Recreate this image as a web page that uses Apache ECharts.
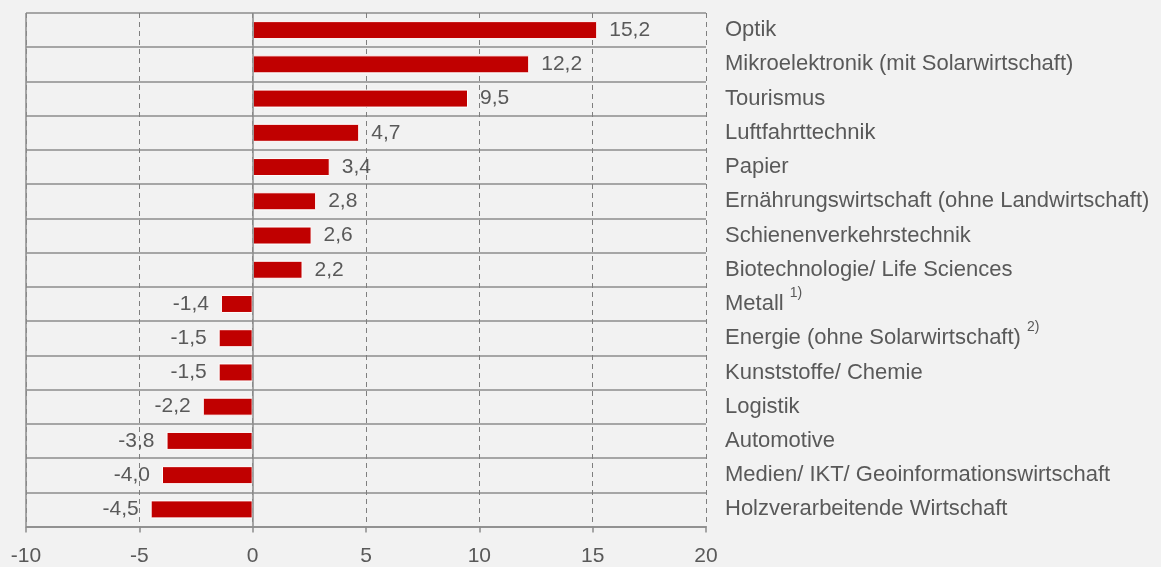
<!DOCTYPE html>
<html>
<head>
<meta charset="utf-8">
<script src="https://cdn.jsdelivr.net/npm/echarts@6/dist/echarts.min.js"></script>
<style>
html,body{margin:0;padding:0;background:#f2f2f2;}
#c{width:1161px;height:567px;}
</style>
</head>
<body>
<div id="c"></div>
<script>
var categories = [
  'Optik',
  'Mikroelektronik (mit Solarwirtschaft)',
  'Tourismus',
  'Luftfahrttechnik',
  'Papier',
  'Ernährungswirtschaft (ohne Landwirtschaft)',
  'Schienenverkehrstechnik',
  'Biotechnologie/ Life Sciences',
  'Metall',
  'Energie (ohne Solarwirtschaft)',
  'Kunststoffe/ Chemie',
  'Logistik',
  'Automotive',
  'Medien/ IKT/ Geoinformationswirtschaft',
  'Holzverarbeitende Wirtschaft'
];
var footnotes = ['', '', '', '', '', '', '', '', '1)', '2)', '', '', '', '', ''];
var values = [15.2, 12.2, 9.5, 4.7, 3.4, 2.8, 2.6, 2.2, -1.4, -1.5, -1.5, -2.2, -3.8, -4.0, -4.5];
var xTicks = { min: -10, max: 20, interval: 5 };

var textColor = '#595959';
var font = 'Liberation Sans, Arial, sans-serif';

var chart = echarts.init(document.getElementById('c'));
var seriesData = values.map(function (v) {
  return v < 0 ? { value: v, label: { position: 'left' } } : v;
});
chart.setOption({
  backgroundColor: '#f2f2f2',
  animation: false,
  grid: { left: 26, right: 455, top: 13, bottom: 40.5, containLabel: false },
  xAxis: {
    type: 'value',
    min: xTicks.min, max: xTicks.max, interval: xTicks.interval,
    axisLine: { show: true, lineStyle: { color: '#8c8c8c', width: 1.5 } },
    axisTick: { show: true, length: 6, lineStyle: { color: '#8c8c8c', width: 1.5 } },
    axisLabel: {
      color: textColor, fontSize: 21, fontFamily: font, margin: 19,
      formatter: function (v) { return String(v); }
    },
    splitLine: { show: true, lineStyle: { color: '#7f7f7f', type: [5, 4], width: 1 } }
  },
  yAxis: {
    type: 'category',
    data: categories,
    inverse: true,
    position: 'right',
    axisLine: { show: false },
    axisTick: { show: false },
    splitLine: { show: true, lineStyle: { color: '#8c8c8c', width: 1.5 } },
    axisLabel: {
      margin: 19, align: 'left',
      color: textColor, fontSize: 22, fontFamily: font,
      formatter: function (v, i) {
        var f = footnotes[i];
        return f ? '{b|' + v + '} {sup|' + f + '}' : '{b|' + v + '}';
      },
      rich: {
        b: { fontSize: 22, color: textColor, fontFamily: font },
        sup: { fontSize: 14, color: textColor, fontFamily: font, verticalAlign: 'top', padding: [0, 0, 22, 0] }
      }
    }
  },
  series: [{
    type: 'bar',
    data: seriesData,
    barWidth: 18,
    itemStyle: { color: '#c00000', borderColor: '#ffffff', borderWidth: 1 },
    label: {
      show: true,
      position: 'right',
      distance: 12,
      color: textColor, fontSize: 21, fontFamily: font,
      formatter: function (p) { return p.value.toFixed(1).replace('.', ','); }
    },
    markLine: {
      silent: true,
      symbol: 'none',
      label: { show: false },
      lineStyle: { color: '#8c8c8c', type: 'solid', width: 1.5 },
      data: [{ xAxis: 0 }, { xAxis: -10 }]
    }
  }]
});
</script>
</body>
</html>
